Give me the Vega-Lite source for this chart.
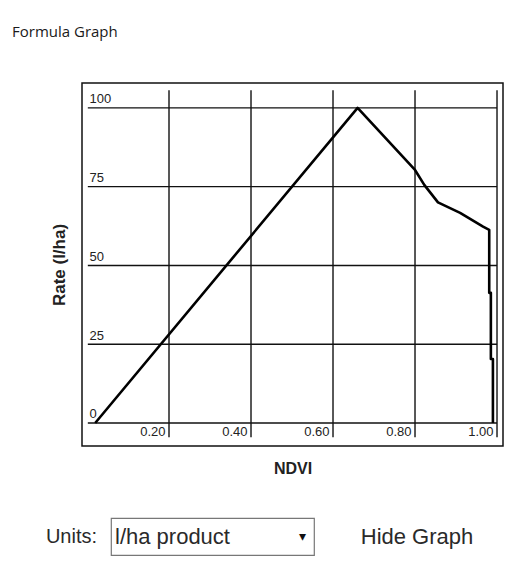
{
  "$schema": "https://vega.github.io/schema/vega-lite/v6.json",
  "background": "white",
  "padding": {"left": 12, "top": 25, "right": 5, "bottom": 5},
  "title": {"text": "Formula Graph", "anchor": "start", "frame": "group", "dx": -70, "offset": 42, "font": "Open Sans", "fontSize": 15, "fontWeight": "normal", "color": "#1a1a1a"},
  "spacing": 40,
  "vconcat": [
    {
      "width": 421,
      "height": 363,
      "view": {"stroke": "#111", "strokeWidth": 1.5},
      "layer": [
        {
          "data": {"values": [{"ndvi": 0.2}, {"ndvi": 0.4}, {"ndvi": 0.6}, {"ndvi": 0.8}, {"ndvi": 1.0}]},
          "mark": {"type": "rule", "color": "#111", "strokeWidth": 1.4},
          "encoding": {
            "x": {"field": "ndvi", "type": "quantitative", "scale": {"domain": [-0.0122, 1.0146], "nice": false, "zero": false}},
            "y": {"datum": -4.5, "type": "quantitative", "scale": {"domain": [-7.3, 107.9], "nice": false, "zero": false}},
            "y2": {"datum": 105.6}
          }
        },
        {
          "data": {"values": [{"rate": 0}, {"rate": 25}, {"rate": 50}, {"rate": 75}, {"rate": 100}]},
          "mark": {"type": "rule", "color": "#111", "strokeWidth": 1.4},
          "encoding": {
            "y": {"field": "rate", "type": "quantitative", "scale": {"domain": [-7.3, 107.9], "nice": false, "zero": false}},
            "x": {"datum": 0.002, "type": "quantitative", "scale": {"domain": [-0.0122, 1.0146], "nice": false, "zero": false}},
            "x2": {"datum": 1.0}
          }
        },
        {
          "data": {"values": [
            {"step": 1, "ndvi": 0.02, "rate": 0},
            {"step": 2, "ndvi": 0.66, "rate": 100},
            {"step": 3, "ndvi": 0.80, "rate": 80.3},
            {"step": 4, "ndvi": 0.823, "rate": 75.5},
            {"step": 5, "ndvi": 0.856, "rate": 70},
            {"step": 6, "ndvi": 0.91, "rate": 66.7},
            {"step": 7, "ndvi": 0.966, "rate": 62.3},
            {"step": 8, "ndvi": 0.981, "rate": 61.3},
            {"step": 9, "ndvi": 0.981, "rate": 41.3},
            {"step": 10, "ndvi": 0.985, "rate": 41.3},
            {"step": 11, "ndvi": 0.985, "rate": 20.3},
            {"step": 12, "ndvi": 0.99, "rate": 20.3},
            {"step": 13, "ndvi": 0.99, "rate": 0}
          ]},
          "mark": {"type": "line", "color": "#000", "strokeWidth": 2.6, "strokeJoin": "round"},
          "encoding": {
            "order": {"field": "step", "type": "quantitative"},
            "x": {
              "field": "ndvi", "type": "quantitative",
              "scale": {"domain": [-0.0122, 1.0146], "nice": false, "zero": false},
              "axis": {
                "title": "NDVI", "values": [0.2, 0.4, 0.6, 0.8, 1.0], "format": ".2f",
                "grid": false, "domain": false, "ticks": false, "tickSize": 0,
                "labelAlign": "right", "labelBaseline": "alphabetic", "labelPadding": -11, "labelOffset": -4,
                "labelFlush": false, "labelOverlap": false, "labelBound": false,
                "labelFont": "Liberation Sans", "labelFontSize": 13, "labelColor": "#222",
                "titleFont": "Liberation Sans", "titleFontSize": 16, "titleFontWeight": "bold", "titleColor": "#222",
                "titlePadding": 14, "minExtent": 0, "maxExtent": 0
              }
            },
            "y": {
              "field": "rate", "type": "quantitative",
              "scale": {"domain": [-7.3, 107.9], "nice": false, "zero": false},
              "axis": {
                "title": "Rate (l/ha)", "values": [0, 25, 50, 75, 100],
                "grid": false, "domain": false, "ticks": false, "tickSize": 0,
                "labelAlign": "left", "labelBaseline": "alphabetic", "labelPadding": -7, "labelOffset": -5,
                "labelFlush": false, "labelOverlap": false, "labelBound": false,
                "labelFont": "Liberation Sans", "labelFontSize": 13, "labelColor": "#222",
                "titleFont": "Liberation Sans", "titleFontSize": 17, "titleFontWeight": "bold", "titleColor": "#222",
                "titlePadding": 14, "minExtent": 0, "maxExtent": 0
              }
            }
          }
        }
      ]
    },
    {
      "spacing": 10,
      "hconcat": [
        {
          "width": 18,
          "height": 37,
          "data": {"values": [{"label": "Units:"}]},
          "mark": {"type": "text", "align": "right", "dx": 6, "font": "Liberation Sans", "fontSize": 20, "color": "#2a2a2a"},
          "encoding": {"text": {"field": "label", "type": "nominal"}}
        },
        {
          "width": 203,
          "height": 37,
          "view": {"stroke": "#777", "strokeWidth": 1.2},
          "layer": [
            {
              "data": {"values": [{"item": "l/ha product"}]},
              "mark": {"type": "text", "align": "left", "dx": 4, "font": "Liberation Sans", "fontSize": 22, "color": "#2a2a2a"},
              "encoding": {
                "x": {"field": "item", "type": "nominal", "scale": {"type": "point", "domain": ["l/ha product", "▾"], "padding": 0}, "axis": null},
                "text": {"field": "item", "type": "nominal"}
              }
            },
            {
              "data": {"values": [{"item": "▾"}]},
              "mark": {"type": "text", "align": "right", "dx": -8, "font": "DejaVu Sans", "fontSize": 14, "color": "#111"},
              "encoding": {
                "x": {"field": "item", "type": "nominal", "scale": {"type": "point", "domain": ["l/ha product", "▾"], "padding": 0}, "axis": null},
                "text": {"field": "item", "type": "nominal"}
              }
            }
          ]
        },
        {
          "width": 184,
          "height": 37,
          "data": {"values": [{"label": "Hide Graph"}]},
          "mark": {"type": "text", "font": "Liberation Sans", "fontSize": 22, "color": "#2a2a2a"},
          "encoding": {"text": {"field": "label", "type": "nominal"}}
        }
      ]
    }
  ],
  "config": {"view": {"stroke": null}, "font": "Liberation Sans"}
}
